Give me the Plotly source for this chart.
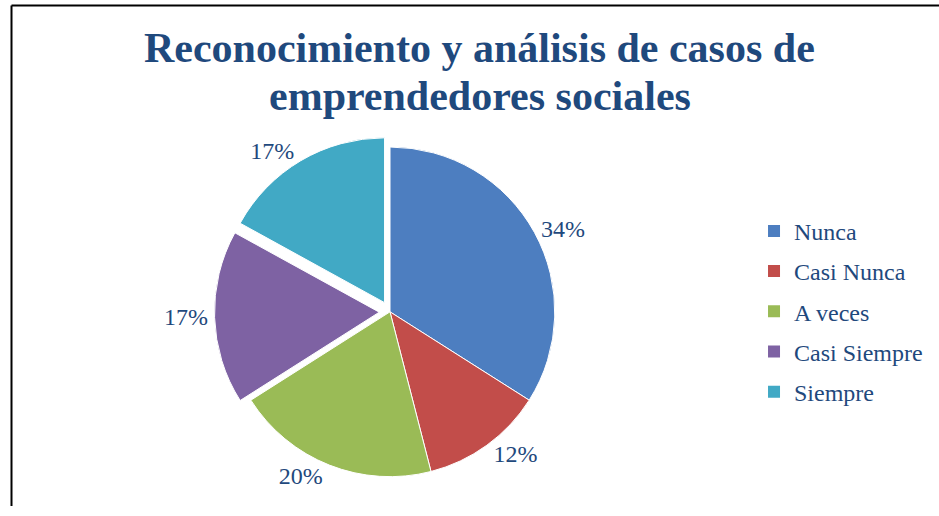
import plotly.graph_objects as go

# datos
categorias = ["Nunca", "Casi Nunca", "A veces", "Casi Siempre", "Siempre"]
porcentajes = [34, 12, 20, 17, 17]
colores = ["#4D7EC0", "#C24D4A", "#9ABB56", "#7E62A3", "#41A9C5"]
separacion = [0, 0, 0, 0.065, 0.065]

titulo = ["Reconocimiento y análisis de casos de", "emprendedores sociales"]
azul = "#1F497D"
fuente = "Times New Roman, Liberation Serif, serif"

fig = go.Figure()

fig.add_trace(go.Pie(
    labels=categorias,
    values=porcentajes,
    marker=dict(colors=colores, line=dict(color="white", width=1)),
    pull=separacion,
    sort=False,
    direction="clockwise",
    rotation=0,
    textinfo="percent",
    textposition="outside",
    outsidetextfont=dict(family=fuente, size=24, color=azul),
    showlegend=False,
    domain=dict(x=[0.2247, 0.606], y=[0.0368, 0.7306]),
))

# leyenda con separacion entre elementos
for cat, col in zip(categorias, colores):
    fig.add_trace(go.Scatter(
        x=[None], y=[None], mode="markers", name=cat,
        legendgroup=cat,
        marker=dict(symbol="square", size=12, color=col),
    ))

# titulo en dos lineas (interlineado mas cerrado que el de plotly)
anotaciones = []
for i, linea in enumerate(titulo):
    anotaciones.append(dict(
        text="<b>" + linea + "</b>", xref="paper", yref="paper",
        x=0.511, y=[0.9043, 0.8093][i], xanchor="center", yanchor="middle",
        showarrow=False, font=dict(family=fuente, size=42, color=azul),
    ))

fig.update_layout(
    width=939, height=516,
    margin=dict(l=0, r=0, t=0, b=0),
    paper_bgcolor="white",
    plot_bgcolor="white",
    annotations=anotaciones,
    xaxis=dict(visible=False),
    yaxis=dict(visible=False),
    legend=dict(x=0.803, y=0.5874, xanchor="left", yanchor="top",
                font=dict(family=fuente, size=24, color=azul),
                tracegroupgap=6, itemwidth=30,
                bgcolor="rgba(0,0,0,0)"),
    shapes=[
        dict(type="line", xref="paper", yref="paper",
             x0=11.5 / 939, x1=1, y0=1 - 5.5 / 516, y1=1 - 5.5 / 516,
             line=dict(color="black", width=2)),
        dict(type="line", xref="paper", yref="paper",
             x0=11.5 / 939, x1=11.5 / 939, y0=0, y1=1 - 5.5 / 516,
             line=dict(color="black", width=2)),
    ],
)

fig.write_html("out.html", config={"displayModeBar": False},
               post_script="document.body.style.margin='0';document.body.style.overflow='hidden';")
